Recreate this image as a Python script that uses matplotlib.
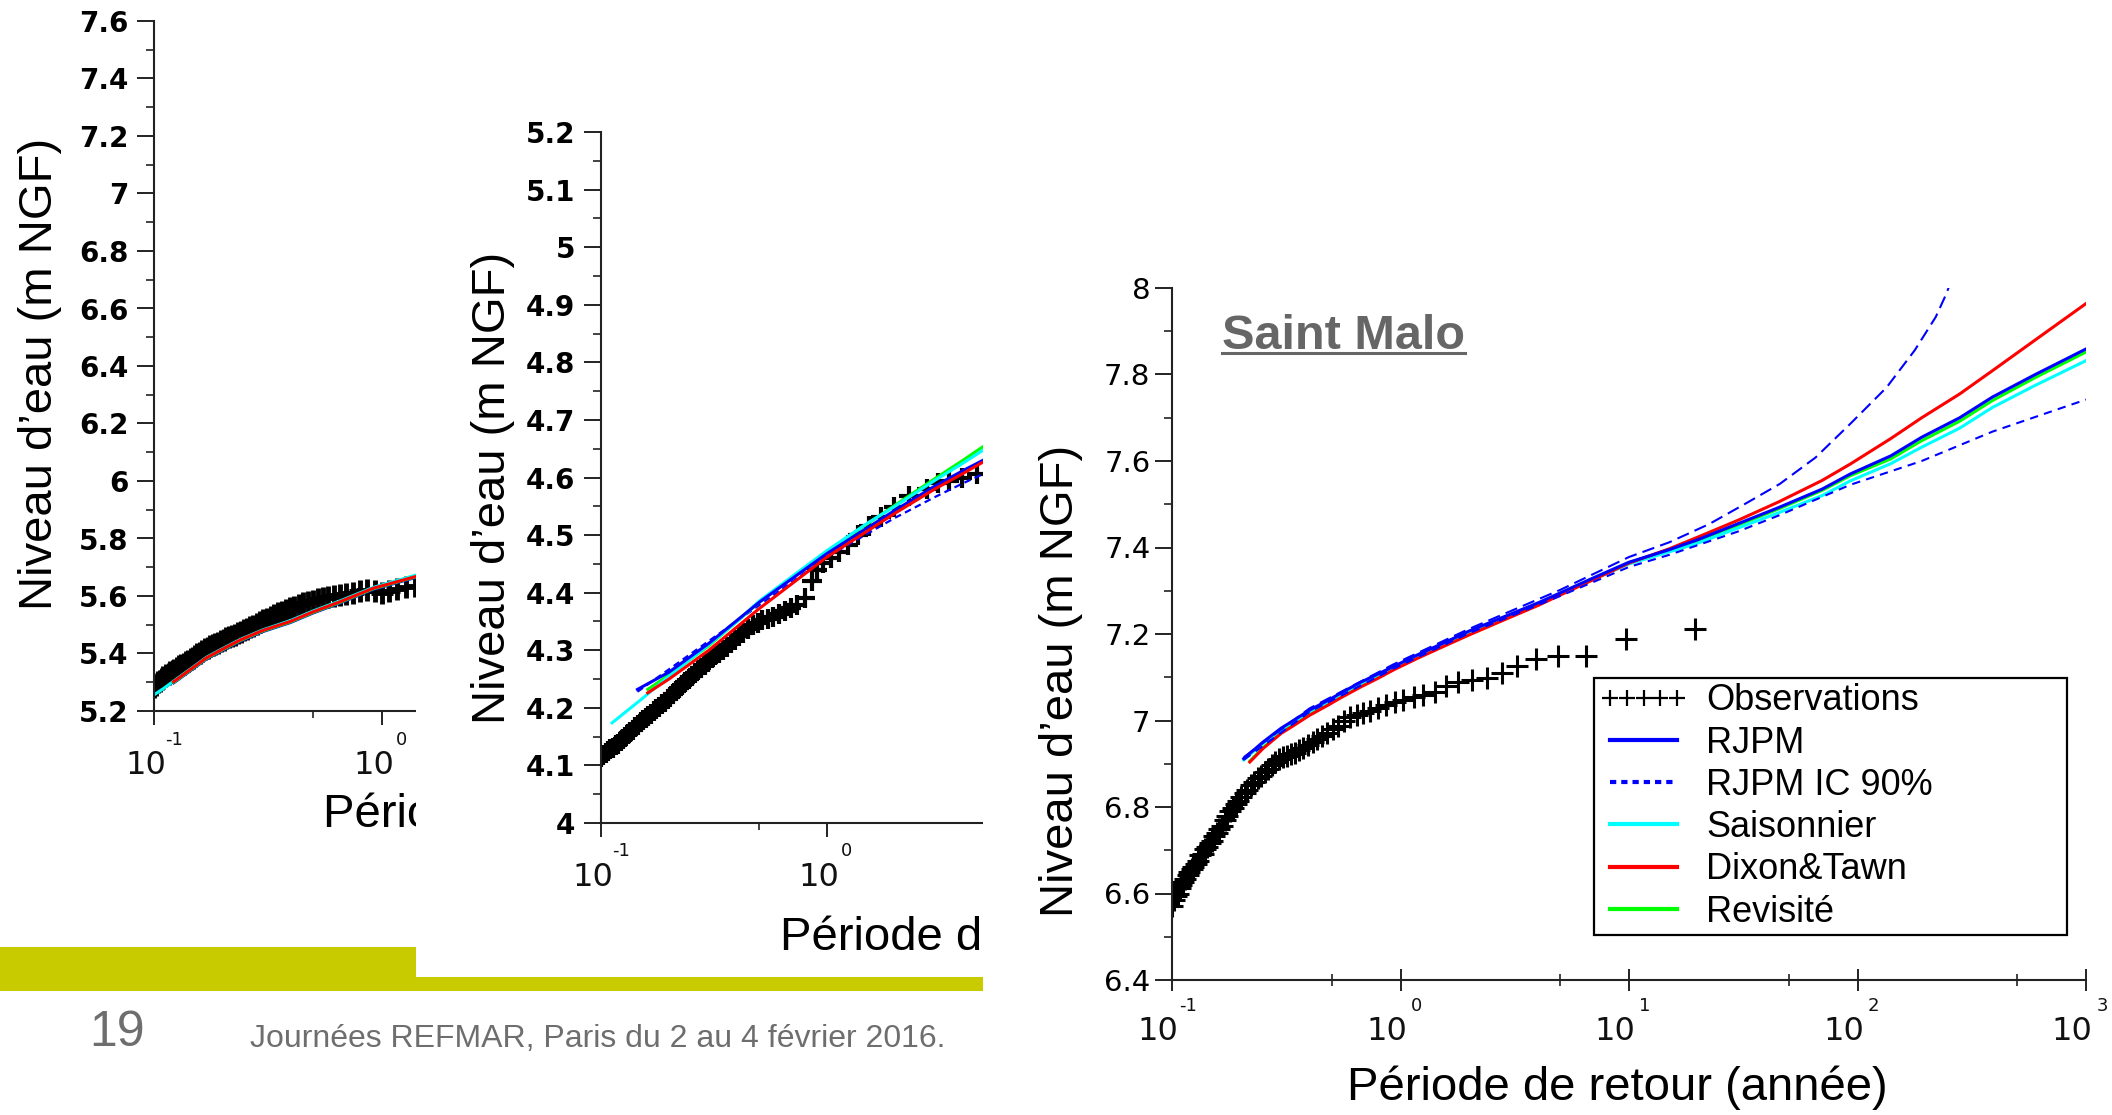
import matplotlib
matplotlib.use("Agg")
import matplotlib.pyplot as plt
from matplotlib.lines import Line2D
from matplotlib.patches import Rectangle
from matplotlib.ticker import FixedLocator, MultipleLocator, NullFormatter, FuncFormatter
from matplotlib.transforms import offset_copy, Bbox

# ---------------- data ----------------
decades = [0.1, 1, 10, 100, 1000]
decade_exps = ['-1', '0', '1', '2', '3']
half_decades = [0.5, 5, 50, 500]

# panel 1 (left, mostly hidden)
obs1_x = [0.100, 0.102, 0.104, 0.106, 0.108, 0.110, 0.113, 0.116, 0.118, 0.121, 0.123,
          0.126, 0.129, 0.132, 0.135, 0.138, 0.141, 0.145, 0.148, 0.152, 0.155, 0.159,
          0.163, 0.168, 0.172, 0.177, 0.181, 0.186, 0.191, 0.197, 0.202, 0.208, 0.214,
          0.220, 0.227, 0.234, 0.241, 0.248, 0.256, 0.265, 0.273, 0.283, 0.292, 0.302,
          0.313, 0.325, 0.337, 0.350, 0.364, 0.379, 0.395, 0.412, 0.431, 0.451, 0.473,
          0.497, 0.523, 0.552, 0.583, 0.618, 0.656, 0.699, 0.746, 0.800, 0.862, 0.933,
          1.00, 1.08, 1.17, 1.28, 1.40, 1.55, 1.75]
obs1_y = [5.285, 5.292, 5.300, 5.306, 5.312, 5.318, 5.325, 5.330, 5.335, 5.339, 5.342,
          5.349, 5.355, 5.360, 5.365, 5.370, 5.375, 5.381, 5.386, 5.392, 5.397, 5.402,
          5.408, 5.414, 5.420, 5.425, 5.430, 5.434, 5.438, 5.443, 5.448, 5.453, 5.458,
          5.462, 5.466, 5.471, 5.476, 5.481, 5.486, 5.491, 5.496, 5.503, 5.510, 5.515,
          5.521, 5.528, 5.535, 5.540, 5.546, 5.551, 5.557, 5.563, 5.569, 5.575, 5.580,
          5.584, 5.588, 5.593, 5.598, 5.600, 5.603, 5.608, 5.612, 5.616, 5.620, 5.616,
          5.612, 5.618, 5.625, 5.630, 5.635, 5.642, 5.650]
fit1_x = [0.122, 0.145, 0.170, 0.200, 0.239, 0.300, 0.395, 0.500, 0.656, 0.918, 1.400, 1.600]
red1 = [5.302, 5.345, 5.385, 5.415, 5.447, 5.480, 5.511, 5.545, 5.580, 5.627, 5.667, 5.678]
blue1 = [5.298, 5.341, 5.381, 5.411, 5.443, 5.476, 5.507, 5.541, 5.576, 5.623, 5.664, 5.675]
green1 = [5.300, 5.343, 5.383, 5.413, 5.445, 5.478, 5.509, 5.543, 5.578, 5.625, 5.666, 5.677]
cyan1_x = [0.100, 0.110, 0.122, 0.145, 0.170, 0.200, 0.239, 0.300, 0.395, 0.500, 0.656, 0.918, 1.400, 1.600]
cyan1 = [5.256, 5.278, 5.304, 5.347, 5.387, 5.417, 5.449, 5.482, 5.514, 5.548, 5.583, 5.630, 5.672, 5.684]

# panel 2 (middle, partly hidden)
obs2_x = [0.100, 0.102, 0.105, 0.107, 0.110, 0.113, 0.116, 0.119, 0.122, 0.125, 0.128,
          0.131, 0.135, 0.138, 0.142, 0.146, 0.150, 0.154, 0.158, 0.162, 0.167, 0.171,
          0.176, 0.181, 0.186, 0.191, 0.197, 0.203, 0.209, 0.215, 0.222, 0.229, 0.236,
          0.244, 0.252, 0.260, 0.269, 0.278, 0.288, 0.298, 0.309, 0.321, 0.333, 0.346,
          0.360, 0.375, 0.391, 0.408, 0.427, 0.447, 0.469, 0.493, 0.518, 0.547, 0.578,
          0.612, 0.650, 0.693, 0.740, 0.800, 0.855, 0.900, 0.960, 1.04, 1.13, 1.24, 1.37,
          1.53, 1.73, 1.98, 2.31, 2.77, 3.10, 3.46, 3.96, 4.62, 5.54]
obs2_y = [4.115, 4.118, 4.122, 4.125, 4.128, 4.131, 4.135, 4.138, 4.142, 4.146, 4.150,
          4.154, 4.158, 4.162, 4.166, 4.170, 4.175, 4.179, 4.183, 4.186, 4.190, 4.194,
          4.198, 4.202, 4.206, 4.210, 4.215, 4.219, 4.224, 4.230, 4.235, 4.240, 4.245,
          4.250, 4.255, 4.260, 4.265, 4.270, 4.275, 4.280, 4.286, 4.291, 4.295, 4.300,
          4.306, 4.312, 4.318, 4.324, 4.330, 4.337, 4.343, 4.348, 4.352, 4.355, 4.358,
          4.363, 4.368, 4.373, 4.378, 4.390, 4.420, 4.440, 4.452, 4.460, 4.470, 4.482,
          4.500, 4.515, 4.532, 4.548, 4.568, 4.580, 4.590, 4.594, 4.600, 4.606, 4.615]
blue2_x = [0.145, 0.2, 0.3, 0.5, 1.0, 2.0, 3.0, 4.0, 5.5]
blue2 = [4.232, 4.262, 4.312, 4.383, 4.468, 4.543, 4.585, 4.612, 4.640]
red2_x = [0.161, 0.2, 0.3, 0.5, 1.0, 2.0, 3.0, 4.0, 5.5]
red2 = [4.226, 4.250, 4.300, 4.372, 4.462, 4.538, 4.580, 4.607, 4.638]
green2 = [4.232, 4.257, 4.308, 4.383, 4.472, 4.552, 4.598, 4.630, 4.667]
cyan2_x = [0.112, 0.15, 0.2, 0.3, 0.4, 0.5, 0.7, 1.0, 1.5, 2.0, 3.0, 4.0, 5.5]
cyan2 = [4.174, 4.214, 4.255, 4.310, 4.350, 4.385, 4.428, 4.473, 4.520, 4.550, 4.595, 4.625, 4.660]
ci2_lo_x = [0.145, 1.0, 2.0, 3.0, 4.0, 5.5]
ci2_lo = [4.228, 4.462, 4.530, 4.566, 4.590, 4.615]

# panel 3 (Saint Malo)
obs3_x = [0.100, 0.102, 0.104, 0.106, 0.108, 0.110, 0.112, 0.114, 0.117, 0.119, 0.122,
          0.124, 0.127, 0.130, 0.133, 0.136, 0.139, 0.142, 0.146, 0.149, 0.153, 0.157,
          0.161, 0.165, 0.170, 0.174, 0.179, 0.184, 0.190, 0.195, 0.201, 0.208, 0.214,
          0.222, 0.229, 0.237, 0.245, 0.254, 0.263, 0.273, 0.283, 0.294, 0.306, 0.318,
          0.331, 0.345, 0.360, 0.376, 0.394, 0.413, 0.433, 0.455, 0.479, 0.506, 0.535,
          0.567, 0.603, 0.643, 0.688, 0.739, 0.797, 0.864, 0.942, 1.03, 1.14, 1.26, 1.41,
          1.58, 1.79, 2.05, 2.38, 2.79, 3.25, 3.90, 4.88, 6.50, 9.75, 19.5]
obs3_y = [6.572, 6.585, 6.595, 6.600, 6.612, 6.620, 6.626, 6.633, 6.642, 6.650, 6.656,
          6.661, 6.668, 6.676, 6.688, 6.692, 6.702, 6.708, 6.716, 6.722, 6.732, 6.741,
          6.750, 6.757, 6.770, 6.779, 6.790, 6.798, 6.806, 6.815, 6.824, 6.832, 6.840,
          6.850, 6.857, 6.866, 6.872, 6.880, 6.887, 6.896, 6.904, 6.912, 6.915, 6.918,
          6.922, 6.926, 6.932, 6.937, 6.943, 6.950, 6.958, 6.964, 6.971, 6.980, 6.988,
          6.999, 7.008, 7.013, 7.018, 7.022, 7.030, 7.036, 7.042, 7.048, 7.054, 7.060,
          7.066, 7.080, 7.088, 7.093, 7.098, 7.110, 7.127, 7.142, 7.148, 7.148, 7.188, 7.212]
blue3_x = [0.206, 0.25, 0.30, 0.34, 0.40, 0.48, 0.55, 0.667, 0.80, 0.933, 1.2, 1.6, 2.0,
           3.0, 4.0, 5.0, 7.0, 10, 15, 20, 30, 45, 70, 93, 140, 191, 280, 390, 600, 1000]
blue3 = [6.912, 6.950, 6.982, 7.000, 7.024, 7.046, 7.064, 7.088, 7.108, 7.125, 7.153,
         7.183, 7.207, 7.245, 7.272, 7.295, 7.330, 7.366, 7.395, 7.418, 7.455, 7.492,
         7.535, 7.570, 7.612, 7.655, 7.700, 7.748, 7.800, 7.859]
cyan3 = [6.909, 6.947, 6.979, 6.997, 7.021, 7.043, 7.061, 7.085, 7.105, 7.122, 7.150,
         7.180, 7.204, 7.242, 7.269, 7.292, 7.327, 7.362, 7.390, 7.410, 7.445, 7.480,
         7.520, 7.554, 7.594, 7.632, 7.676, 7.724, 7.775, 7.832]
red3_x = [0.219, 0.25, 0.30, 0.34, 0.40, 0.48, 0.55, 0.667, 0.80, 0.933, 1.2, 1.6, 2.0,
          3.0, 4.0, 5.0, 7.0, 10, 15, 20, 30, 45, 70, 93, 140, 191, 280, 390, 600, 1000]
red3 = [6.904, 6.935, 6.970, 6.988, 7.012, 7.035, 7.053, 7.077, 7.098, 7.117, 7.145,
        7.175, 7.198, 7.238, 7.266, 7.290, 7.326, 7.364, 7.397, 7.424, 7.463, 7.505,
        7.555, 7.593, 7.652, 7.700, 7.755, 7.809, 7.880, 7.964]
green3 = [6.906, 6.937, 6.972, 6.990, 7.014, 7.037, 7.055, 7.079, 7.100, 7.119, 7.147,
          7.177, 7.200, 7.240, 7.268, 7.292, 7.327, 7.364, 7.394, 7.416, 7.452, 7.489,
          7.532, 7.566, 7.605, 7.647, 7.692, 7.740, 7.793, 7.852]
ci3_hi_x = [0.206, 0.40, 0.933, 2.0, 5.0, 10, 15, 22.4, 32, 45.7, 65.5, 93, 134, 178, 220, 245, 262]
ci3_hi = [6.915, 7.028, 7.130, 7.212, 7.302, 7.378, 7.412, 7.454, 7.500, 7.547, 7.608,
          7.686, 7.770, 7.856, 7.933, 7.987, 8.030]
ci3_lo_x = [0.206, 0.40, 0.933, 2.0, 5.0, 10, 15, 30, 45.7, 93, 191, 390, 1000]
ci3_lo = [6.909, 7.020, 7.120, 7.202, 7.288, 7.355, 7.383, 7.437, 7.475, 7.545, 7.600, 7.668, 7.742]

legend_labels = ['Observations', 'RJPM', 'RJPM IC 90%', 'Saisonnier', 'Dixon&Tawn', 'Revisité']

BLUE, CYAN, RED, GREEN = '#0000ff', '#00ffff', '#ff0000', '#00ff00'
ylabel = "Niveau d\u2019eau (m NGF)"
xlabel = "Période de retour (année)"

# ---------------- figure, laid out in slide pixels ----------------
W, H = 2112, 1115
fig = plt.figure(figsize=(W / 100, H / 100), dpi=100)


def px_axes(left, top, right, bottom, z):
    ax = fig.add_axes([left / W, 1 - bottom / H, (right - left) / W, (bottom - top) / H])
    ax.set_zorder(z)
    return ax


def fig_text(x, y, s, z, clip_right=None, **kw):
    t = fig.text(x / W, 1 - y / H, s, zorder=z, **kw)
    if clip_right is not None:
        # the next picture on the slide covers the rest of this label
        t.set_clip_box(Bbox([[0, 0], [clip_right, H]]))
        t.set_clip_on(True)
    return t


def slide_rect(left, top, right, bottom, color, z):
    fig.add_artist(Rectangle((left / W, 1 - bottom / H), (right - left) / W, (bottom - top) / H,
                             transform=fig.transFigure, facecolor=color, edgecolor='none', zorder=z))


def style_axes(ax, ylo, yhi, ystep, yminor, yfont, ypad, xdir, xlen, spine_col='#222222'):
    ax.set_xscale('log')
    ax.set_xlim(0.1, 1000)
    ax.set_ylim(ylo, yhi)
    for s in ('top', 'right'):
        ax.spines[s].set_visible(False)
    for s in ('left', 'bottom'):
        ax.spines[s].set_linewidth(1.5)
        ax.spines[s].set_color(spine_col)
    ax.yaxis.set_major_locator(MultipleLocator(ystep))
    ax.yaxis.set_minor_locator(MultipleLocator(yminor))
    ax.yaxis.set_major_formatter(FuncFormatter(lambda v, p: '{:g}'.format(round(v, 3))))
    ax.xaxis.set_major_locator(FixedLocator(decades))
    ax.xaxis.set_minor_locator(FixedLocator(half_decades))
    ax.xaxis.set_major_formatter(NullFormatter())
    ax.xaxis.set_minor_formatter(NullFormatter())
    ax.tick_params(axis='y', which='major', direction='out', length=12, width=1.4,
                   color=spine_col, pad=ypad)
    ax.tick_params(axis='y', which='minor', direction='out', length=6, width=1.2, color=spine_col)
    ax.tick_params(axis='x', which='major', direction=xdir, length=xlen, width=1.4, color=spine_col)
    ax.tick_params(axis='x', which='minor', direction=xdir, length=xlen / 2, width=1.2, color=spine_col)
    for lab in ax.get_yticklabels():
        lab.set_fontproperties(yfont)


def decade_labels(ax, upto, dx10, dy10, dxe, dye, size10, sizee):
    # "10" with a small raised exponent, Scilab style
    base = ax.get_xaxis_transform()
    for v, e in zip(decades, decade_exps):
        if v > upto:
            continue
        t10 = offset_copy(base, fig=fig, x=dx10, y=-dy10, units='dots')
        ax.text(v, 0, '10', transform=t10, ha='center', va='center', fontsize=size10,
                family='DejaVu Sans', color='#111111')
        te = offset_copy(base, fig=fig, x=dxe, y=-dye, units='dots')
        ax.text(v, 0, e, transform=te, ha='center', va='center', fontsize=sizee,
                family='DejaVu Sans', color='#111111')


bold_ticks = {'family': 'DejaVu Sans', 'weight': 'bold', 'size': 20}
plain_ticks = {'family': 'DejaVu Sans', 'size': 21}
label_font = dict(family='Liberation Sans', fontsize=34, color='black')

# slide background: olive band and footer
slide_rect(0, 947, 983, 991, '#c8cb00', -2)
fig_text(89, 1046, '19', -1, fontsize=36, color='#6e6e6e', family='Liberation Sans', va='baseline')
fig_text(250, 1047, 'Journées REFMAR, Paris du 2 au 4 février 2016.', -1, fontsize=23,
         color='#6e6e6e', family='Liberation Sans', va='baseline')

# ---- panel 1 ----
ax1 = px_axes(154, 21, 1065, 711, 0)
style_axes(ax1, 5.2, 7.6, 0.2, 0.1, bold_ticks, 6.5, 'out', 10)
ax1.plot(obs1_x, obs1_y, ls='none', marker='+', ms=16, mew=3.5, color='k')
ax1.plot(cyan1_x, cyan1, color=CYAN, lw=2.2)
ax1.plot(fit1_x, blue1, color=BLUE, lw=2.2)
ax1.plot(fit1_x, green1, color=GREEN, lw=2.2)
ax1.plot(fit1_x, red1, color=RED, lw=2.2)
decade_labels(ax1, 1.5, -8, 54, 20, 29, 23, 13)
fig_text(40, 374, ylabel, 0.5, rotation=90, ha='center', va='center', **label_font)
fig_text(323, 815, xlabel, 0.5, clip_right=416, ha='left', va='center', **label_font)

# panel 2 hides the right part of panel 1
slide_rect(416, 0, 983, 977, 'white', 1)

ax2 = px_axes(601, 132, 1505, 823, 2)
style_axes(ax2, 4.0, 5.2, 0.1, 0.05, bold_ticks, 6.5, 'out', 10)
ax2.plot(obs2_x, obs2_y, ls='none', marker='+', ms=15, mew=3, color='k')
ax2.plot(ci2_lo_x, ci2_lo, color=BLUE, lw=1.6, ls=(0, (3, 2)))
ax2.plot(red2_x, green2, color=GREEN, lw=2.2)
ax2.plot(cyan2_x, cyan2, color=CYAN, lw=2.2)
ax2.plot(blue2_x, blue2, color=BLUE, lw=2.2)
ax2.plot(red2_x, red2, color=RED, lw=2.2)
decade_labels(ax2, 5, -8, 54, 20, 28, 23, 13)
fig_text(493, 488, ylabel, 2.5, rotation=90, ha='center', va='center', **label_font)
fig_text(780, 938, xlabel, 2.5, clip_right=983, ha='left', va='center', **label_font)

# panel 3 covers everything on the right
slide_rect(983, 0, W, H, 'white', 3)

ax3 = px_axes(1172, 288, 2086, 980, 4)
style_axes(ax3, 6.4, 8.0, 0.2, 0.1, plain_ticks, 3.5, 'inout', 16)
ax3.plot(obs3_x, obs3_y, ls='none', marker='+', ms=16, mew=2.2, color='k')
ax3.plot(red3_x, green3, color=GREEN, lw=2.2)
ax3.plot(blue3_x, cyan3, color=CYAN, lw=2.2)
ax3.plot(red3_x, red3, color=RED, lw=2.2)
ax3.plot(blue3_x, blue3, color=BLUE, lw=2.2)
ax3.plot(ci3_hi_x, ci3_hi, color=BLUE, lw=1.5, ls=(0, (6, 3)))
ax3.plot(ci3_lo_x, ci3_lo, color=BLUE, lw=1.5, ls=(0, (4, 3)))
decade_labels(ax3, 1000, -14, 52, 16, 26, 23, 13)

handles = [
    Line2D([], [], ls='none', marker='+', ms=12, mew=1.6, color='k'),
    Line2D([], [], color=BLUE, lw=3),
    Line2D([], [], color=BLUE, lw=3, ls=(0, (1.5, 1.2))),
    Line2D([], [], color=CYAN, lw=3),
    Line2D([], [], color=RED, lw=3),
    Line2D([], [], color=GREEN, lw=3),
]
ax3_w, ax3_h = 2086 - 1172, 980 - 288
leg_box = ((1594 - 1172) / ax3_w, (980 - 935) / ax3_h, (2067 - 1594) / ax3_w, (935 - 678) / ax3_h)
leg = ax3.legend(handles, legend_labels, numpoints=5, loc='upper left', mode='expand',
                 bbox_to_anchor=leg_box, borderaxespad=0,
                 prop={'family': 'Liberation Sans', 'size': 26},
                 handlelength=2.45, handletextpad=0.5, labelspacing=0.2, borderpad=0.15,
                 fancybox=False, framealpha=1, edgecolor='black')
leg.get_frame().set_linewidth(1.6)

fig_text(1061, 681, ylabel, 5, rotation=90, ha='center', va='center', **label_font)
fig_text(1617, 1088, xlabel, 5, ha='center', va='center', **label_font)

title = fig_text(1222, 349, 'Saint Malo', 5, fontsize=35, weight='bold', color='#666666',
                 family='Liberation Sans', va='baseline', ha='left')
fig.canvas.draw()
bb = title.get_window_extent()
fig.add_artist(Line2D([bb.x0 / W, bb.x1 / W], [1 - 353 / H, 1 - 353 / H], transform=fig.transFigure,
                      color='#666666', lw=2.2, zorder=5))

fig.savefig('out.png', dpi=100)
